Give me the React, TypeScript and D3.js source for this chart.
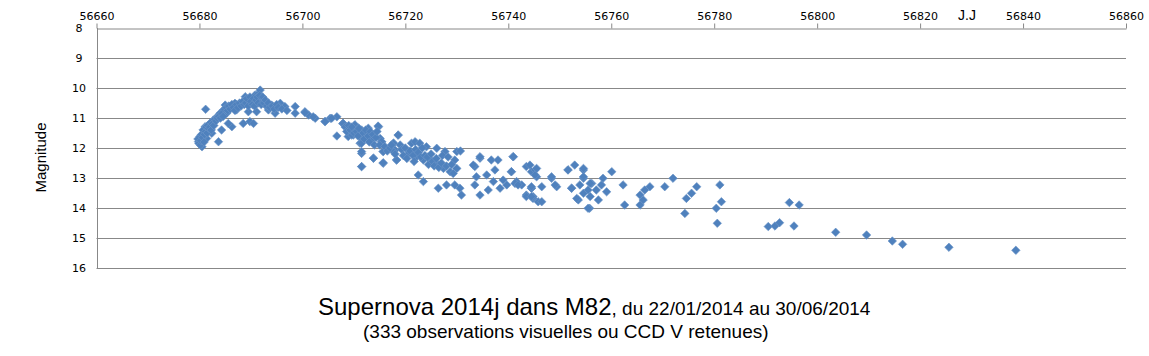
import React, { useEffect, useRef } from "react";
import * as d3 from "d3";

const xTicks = [56660, 56680, 56700, 56720, 56740, 56760, 56780, 56800, 56820, 56840, 56860];
const yTicks = [8, 9, 10, 11, 12, 13, 14, 15, 16];

// [JD, magnitude]
const riseObs: [number, number][] = [
  [56681.2, 10.71], [56679.8, 11.79], [56680.5, 11.96], [56680.1, 11.62], [56680.8, 11.51], [56681.1, 11.29],
  [56681.7, 11.4], [56682.1, 11.18], [56681.4, 11.68], [56682.4, 11.51], [56682.7, 11.07], [56683.4, 10.96],
  [56683.7, 11.79], [56684.3, 11.4], [56684.0, 10.84], [56684.7, 10.73], [56685.0, 10.57], [56685.3, 10.84],
  [56685.9, 10.62], [56686.3, 11.29], [56685.6, 11.18], [56686.9, 10.51], [56687.2, 10.73], [56687.9, 10.57],
  [56688.5, 11.18], [56688.9, 10.29], [56689.5, 10.4], [56689.8, 11.12], [56690.5, 11.18], [56689.5, 10.79],
  [56690.8, 10.23], [56691.5, 10.18], [56691.8, 10.07], [56691.1, 10.79], [56692.1, 10.4], [56692.8, 10.57],
  [56693.4, 10.73], [56694.0, 10.57], [56694.7, 10.84], [56695.7, 10.51], [56696.6, 10.62], [56698.6, 10.62],
  [56698.6, 10.84], [56700.5, 10.79], [56701.2, 10.9], [56702.5, 11.01], [56704.4, 11.12], [56705.4, 11.01],
  [56706.7, 10.96], [56706.7, 11.6], [56707.9, 11.18], [56708.9, 11.62],
  [56679.7, 11.7], [56679.9, 11.85], [56680.2, 11.9], [56680.3, 11.75], [56680.4, 11.55], [56680.6, 11.65],
  [56680.7, 11.4], [56680.9, 11.8], [56681.0, 11.55], [56681.2, 11.45], [56681.3, 11.3], [56681.5, 11.5],
  [56681.6, 11.25], [56681.8, 11.35], [56682.0, 11.3], [56682.2, 11.15], [56682.3, 11.4], [56682.5, 11.2],
  [56682.8, 11.25], [56683.0, 11.05], [56683.2, 11.1], [56683.5, 11.0], [56683.8, 10.95], [56684.1, 11.0],
  [56684.4, 10.85], [56684.6, 10.95], [56684.9, 10.7], [56685.2, 10.65], [56685.5, 10.75], [56685.7, 10.6],
  [56686.0, 10.7], [56686.3, 10.55], [56686.6, 10.65], [56686.9, 10.75], [56687.2, 10.55], [56687.5, 10.65],
  [56687.8, 10.5], [56688.1, 10.6], [56688.4, 10.45], [56688.7, 10.55], [56689.0, 10.5], [56689.2, 10.35],
  [56689.5, 10.6], [56689.8, 10.3], [56690.0, 10.45], [56690.3, 10.55], [56690.5, 10.35], [56690.7, 10.6],
  [56691.0, 10.4], [56691.2, 10.3], [56691.4, 10.5], [56691.7, 10.25], [56692.0, 10.55], [56692.3, 10.3],
  [56692.5, 10.5], [56692.8, 10.4], [56693.1, 10.6], [56693.4, 10.5], [56693.7, 10.65], [56694.2, 10.6],
  [56694.5, 10.7], [56695.0, 10.55], [56695.3, 10.65], [56696.0, 10.7], [56697.0, 10.75],
];

const declineObs: [number, number][] = [
  [56700.5, 10.82], [56702.1, 10.96], [56704.4, 11.12], [56705.7, 11.01], [56707.9, 11.18], [56710.2, 11.23],
  [56709.9, 11.57], [56711.5, 11.4], [56712.5, 11.51], [56713.5, 11.62], [56714.8, 11.29], [56711.2, 11.84],
  [56711.5, 12.18], [56711.5, 12.62], [56713.8, 12.34], [56715.7, 12.51], [56715.4, 11.79], [56715.7, 12.12],
  [56717.7, 11.84], [56718.6, 11.57], [56718.3, 12.4], [56718.0, 12.07],
  [56707.9, 11.18], [56710.2, 11.23], [56710.9, 11.34], [56712.8, 11.34], [56714.7, 11.27], [56709.6, 11.57],
  [56711.2, 11.62], [56712.5, 11.51], [56713.4, 11.73], [56715.1, 11.68], [56715.4, 11.79], [56711.5, 11.84],
  [56711.5, 12.12], [56713.8, 12.34], [56715.7, 12.12], [56715.7, 12.49], [56711.5, 12.62], [56717.7, 11.84],
  [56718.6, 11.57], [56717.7, 12.12], [56718.3, 12.4], [56721.2, 11.84], [56721.9, 11.79], [56722.8, 11.84],
  [56724.1, 11.96], [56726.1, 12.01], [56727.7, 12.12], [56730.0, 12.12], [56720.6, 12.18], [56722.2, 12.29],
  [56723.5, 12.4], [56724.8, 12.4], [56726.1, 12.51], [56727.4, 12.68], [56728.7, 12.79], [56729.6, 12.4],
  [56730.0, 12.68], [56722.5, 12.9], [56723.5, 13.12], [56726.4, 13.34], [56728.0, 13.23], [56729.6, 13.23],
  [56730.6, 13.34], [56730.9, 13.57], [56733.5, 12.62], [56734.5, 12.34], [56733.8, 12.96], [56733.5, 13.23],
  [56734.5, 13.57], [56735.8, 12.9], [56736.7, 12.4], [56737.4, 12.73], [56738.0, 12.4], [56737.1, 13.12],
  [56736.1, 13.4], [56739.0, 13.07], [56739.7, 13.23], [56738.4, 13.34], [56740.6, 12.79], [56740.9, 12.29],
  [56741.6, 13.12], [56742.6, 13.23], [56743.5, 12.62], [56744.5, 12.79], [56743.5, 13.57], [56744.8, 13.68],
  [56744.5, 13.34], [56745.8, 13.79],
  [56708.3, 11.3], [56708.6, 11.45], [56709.0, 11.25], [56709.3, 11.4], [56709.6, 11.3], [56710.0, 11.5],
  [56710.5, 11.45], [56710.8, 11.6], [56711.0, 11.35], [56711.8, 11.5], [56712.0, 11.7], [56712.3, 11.4],
  [56712.8, 11.6], [56713.0, 11.8], [56713.2, 11.45], [56713.7, 11.55], [56714.0, 11.9], [56714.3, 11.65],
  [56714.5, 11.45], [56715.0, 11.9], [56716.0, 11.95], [56716.5, 12.1], [56717.0, 12.0], [56717.3, 11.9],
  [56718.0, 12.2], [56719.0, 11.9], [56719.3, 12.05], [56719.6, 12.25], [56720.0, 12.0], [56720.3, 12.35],
  [56720.9, 12.1], [56721.5, 12.25], [56721.7, 12.45], [56722.0, 12.05], [56722.5, 12.15], [56723.0, 12.3],
  [56723.3, 12.0], [56723.8, 12.25], [56724.3, 12.3], [56724.5, 12.55], [56725.0, 12.2], [56725.3, 12.45],
  [56725.6, 12.6], [56726.0, 12.35], [56726.5, 12.65], [56727.0, 12.5], [56727.2, 12.25], [56728.0, 12.6],
  [56728.3, 12.3], [56729.0, 12.55], [56729.3, 12.85], [56730.7, 12.1], [56733.2, 12.57], [56734.5, 12.29],
];

const lateObs: [number, number][] = [
  [56751.6, 12.73], [56752.9, 12.57], [56754.6, 12.73], [56752.3, 13.34], [56753.6, 13.73], [56754.6, 13.01],
  [56755.8, 14.01], [56756.2, 13.18], [56757.1, 13.4], [56748.4, 13.01], [56749.4, 13.29], [56746.5, 13.79],
  [56745.2, 12.73], [56745.5, 12.96], [56744.5, 13.34], [56743.5, 13.62], [56744.8, 13.62], [56741.0, 12.29],
  [56740.6, 12.79], [56741.3, 13.18], [56741.9, 13.23],
  [56744.2, 12.57], [56745.5, 12.68], [56745.2, 12.9], [56744.5, 13.29], [56746.5, 13.29], [56744.5, 13.62],
  [56748.4, 12.96], [56749.1, 13.23], [56751.6, 12.73], [56754.6, 12.68], [56754.6, 12.96], [56752.3, 13.34],
  [56753.9, 13.23], [56755.9, 13.18], [56753.3, 13.68], [56754.6, 13.51], [56755.5, 13.4], [56755.9, 13.62],
  [56757.5, 13.73], [56758.1, 13.23], [56758.4, 13.01], [56759.1, 13.46], [56760.1, 12.79], [56755.5, 14.01],
  [56762.3, 13.23], [56762.6, 13.9], [56765.6, 13.57], [56766.2, 13.73], [56766.5, 13.4], [56767.5, 13.29],
  [56765.6, 13.9], [56770.4, 13.29], [56772.0, 13.01], [56774.6, 13.68], [56775.6, 13.51], [56776.6, 13.29],
  [56774.3, 14.18], [56781.1, 13.23], [56781.4, 13.79], [56780.4, 14.01], [56780.6, 14.51],
];

const tailObs: [number, number][] = [
  [56790.5, 14.62], [56791.8, 14.6], [56792.7, 14.49], [56794.6, 13.82], [56796.5, 13.9], [56795.5, 14.6],
  [56803.6, 14.81], [56809.6, 14.9], [56814.6, 15.1], [56816.6, 15.21], [56825.6, 15.31], [56838.6, 15.41],
];

const W = 1149;
const H = 356;

export default function App() {
  const ref = useRef<SVGSVGElement | null>(null);

  useEffect(() => {
    const svg = d3.select(ref.current);
    svg.selectAll("*").remove();

    const x = d3.scaleLinear().domain([56660, 56860]).range([96.5, 1126]);
    const y = d3.scaleLinear().domain([8, 16]).range([28, 268]);
    const gridColor = "#888888";

    // horizontal gridlines
    svg.append("g")
      .selectAll("line")
      .data(yTicks.slice(1))
      .join("line")
      .attr("x1", x(56660))
      .attr("x2", x(56860))
      .attr("y1", (d) => Math.round(y(d)) + 0.5)
      .attr("y2", (d) => Math.round(y(d)) + 0.5)
      .attr("stroke", gridColor)
      .attr("stroke-width", 1);

    // top axis
    const top = svg.append("g").attr("transform", `translate(0,${Math.round(y(8)) + 0.5})`);
    top.call(
      d3.axisTop(x).tickValues(xTicks).tickSize(5).tickSizeOuter(0).tickFormat(d3.format("d"))
    );
    top.select(".domain").attr("stroke", gridColor);
    top.selectAll(".tick line").attr("stroke", gridColor);
    top.selectAll(".tick text")
      .attr("font-family", "DejaVu Sans")
      .attr("font-size", 11)
      .attr("fill", "#000")
      .attr("y", -9);

    // left axis line
    svg.append("line")
      .attr("x1", Math.round(x(56660)) + 0.5)
      .attr("x2", Math.round(x(56660)) + 0.5)
      .attr("y1", y(8))
      .attr("y2", y(16))
      .attr("stroke", gridColor);

    // left tick labels
    svg.append("g")
      .selectAll("text")
      .data(yTicks)
      .join("text")
      .attr("x", 79)
      .attr("y", (d) => y(d))
      .attr("dy", "0.36em")
      .attr("text-anchor", "middle")
      .attr("font-family", "DejaVu Sans")
      .attr("font-size", 11)
      .attr("fill", "#000")
      .text((d) => String(d));

    // points
    const all = [...riseObs, ...declineObs, ...lateObs, ...tailObs];
    const sym = d3.symbol().type(d3.symbolSquare).size(36);
    svg.append("g")
      .selectAll("path")
      .data(all)
      .join("path")
      .attr("d", sym() as string)
      .attr("transform", (d) => `translate(${x(d[0])},${y(d[1])}) rotate(45)`)
      .attr("fill", "#4F81BD")
      .attr("stroke", "#6c95c8")
      .attr("stroke-width", 0.6);

    // axis titles
    svg.append("text")
      .attr("x", 967)
      .attr("y", 20)
      .attr("text-anchor", "middle")
      .attr("font-family", "Liberation Sans")
      .attr("font-size", 14)
      .attr("fill", "#000")
      .text("J.J");

    svg.append("text")
      .attr("transform", `translate(46,157.5) rotate(-90)`)
      .attr("text-anchor", "middle")
      .attr("font-family", "Liberation Sans")
      .attr("font-size", 15)
      .attr("fill", "#000")
      .text("Magnitude");

    // chart title
    const t = svg.append("text")
      .attr("x", 318)
      .attr("y", 315)
      .attr("font-family", "Liberation Sans")
      .attr("fill", "#000");
    t.append("tspan").attr("font-size", 24).text("Supernova 2014j dans M82");
    t.append("tspan").attr("font-size", 19).text(", du 22/01/2014 au 30/06/2014");

    svg.append("text")
      .attr("x", 363)
      .attr("y", 338)
      .attr("font-family", "Liberation Sans")
      .attr("font-size", 19)
      .attr("fill", "#000")
      .text("(333 observations visuelles ou CCD V retenues)");
  }, []);

  return (
    <svg
      ref={ref}
      width={W}
      height={H}
      style={{ position: "absolute", left: 0, top: 0, background: "#fff", display: "block" }}
    />
  );
}
